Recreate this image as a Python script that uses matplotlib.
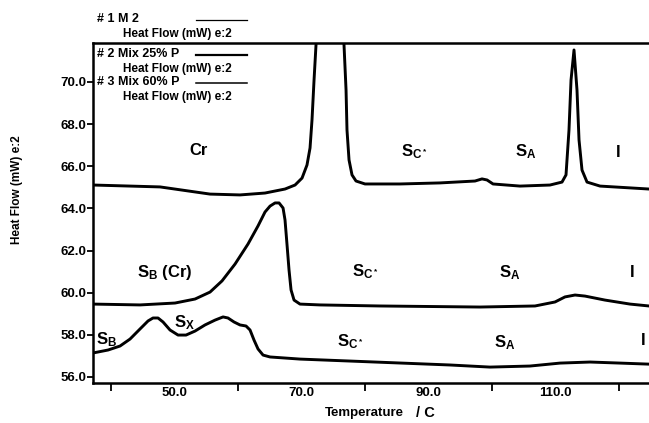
#!/usr/bin/env python3
import matplotlib
matplotlib.use("Agg")
import matplotlib.pyplot as plt

# DSC traces (temperature in C, heat flow in mW)
temp_m2 = [37.24, 47.80, 55.67, 60.39, 64.33, 67.48, 69.06, 70.16, 70.94, 71.42, 71.73, 72.05,
           72.36, 73.30, 74.57, 75.83, 76.77, 77.09, 77.24, 77.56, 78.03, 78.66, 80.08, 85.59,
           91.89, 97.40, 98.50, 99.29, 100.24, 104.49, 109.21, 111.10, 111.73, 112.20, 112.52,
           112.99, 113.46, 113.78, 114.25, 115.04, 117.09, 124.80]
flow_m2 = [65.11, 65.02, 64.68, 64.64, 64.73, 64.92, 65.11, 65.44, 66.06, 66.87, 68.20, 70.09,
           71.76, 76.70, 78.20, 76.70, 71.76, 69.62, 67.72, 66.30, 65.59, 65.30, 65.16, 65.16,
           65.21, 65.30, 65.40, 65.35, 65.16, 65.06, 65.11, 65.25, 65.59, 67.72, 70.09,
           71.52, 69.62, 67.25, 65.82, 65.25, 65.06, 64.92]

temp_25 = [37.24, 44.65, 50.16, 53.31, 55.67, 57.56, 59.61, 61.65, 63.23, 64.33, 65.12, 65.91,
           66.54, 67.17, 67.48, 67.80, 68.11, 68.43, 68.90, 69.84, 72.99, 82.44, 98.19, 106.85,
           110.00, 111.57, 113.15, 114.72, 117.87, 121.81, 124.80]
flow_25 = [59.46, 59.42, 59.51, 59.70, 60.03, 60.56, 61.36, 62.31, 63.17, 63.83, 64.11, 64.26,
           64.26, 64.02, 63.45, 62.26, 61.08, 60.13, 59.65, 59.46, 59.42, 59.37, 59.32, 59.37,
           59.56, 59.80, 59.89, 59.84, 59.65, 59.46, 59.37]

temp_60 = [37.24, 39.61, 41.50, 43.07, 44.65, 45.91, 46.69, 47.48, 48.27, 49.37, 50.63, 51.89,
           53.31, 54.88, 56.46, 57.72, 58.50, 59.45, 60.39, 61.34, 61.97, 62.60, 63.23, 64.02,
           65.12, 69.84, 81.65, 93.46, 99.76, 106.06, 110.79, 115.51, 120.24, 124.80]
flow_60 = [57.14, 57.28, 57.47, 57.80, 58.28, 58.66, 58.80, 58.80, 58.61, 58.23, 57.99, 57.99,
           58.18, 58.47, 58.70, 58.85, 58.80, 58.61, 58.47, 58.42, 58.23, 57.75, 57.33, 57.04,
           56.95, 56.85, 56.71, 56.57, 56.47, 56.52, 56.66, 56.71, 56.66, 56.61]

y_ticks = [70.0, 68.0, 66.0, 64.0, 62.0, 60.0, 58.0, 56.0]
x_ticks = [40, 60, 80, 100, 120]
x_labels = [50.0, 70.0, 90.0, 110.0]

# phase labels: (text, temperature, heat flow)
phase_labels = [
    ("Cr", 53.9, 66.77),
    (r"$\mathbf{S}_{\mathbf{C^*}}$", 87.8, 66.68),
    (r"$\mathbf{S}_{\mathbf{A}}$", 105.3, 66.68),
    ("I", 119.9, 66.63),
    (r"$\mathbf{S}_{\mathbf{B}}$ (Cr)", 48.6, 60.98),
    (r"$\mathbf{S}_{\mathbf{C^*}}$", 80.1, 60.98),
    (r"$\mathbf{S}_{\mathbf{A}}$", 102.8, 60.94),
    ("I", 122.1, 60.98),
    (r"$\mathbf{S}_{\mathbf{B}}$", 39.3, 57.75),
    (r"$\mathbf{S}_{\mathbf{X}}$", 51.6, 58.56),
    (r"$\mathbf{S}_{\mathbf{C^*}}$", 77.7, 57.66),
    (r"$\mathbf{S}_{\mathbf{A}}$", 102.1, 57.61),
    ("I", 123.9, 57.75),
]

legend_rows = [
    ("# 1 M 2", 0.9),
    ("# 2 Mix 25% P", 1.6),
    ("# 3 Mix 60% P", 1.1),
]

plt.rcParams.update({
    "font.family": ["Liberation Sans", "DejaVu Sans"],
    "font.weight": "bold",
    "mathtext.fontset": "custom",
    "mathtext.rm": "Liberation Sans:bold",
    "mathtext.bf": "Liberation Sans:bold",
    "mathtext.it": "Liberation Sans:bold",
})

W, H = 649, 423
fig = plt.figure(figsize=(W / 100, H / 100), dpi=100)
ax = fig.add_axes([93 / W, 1 - 383 / H, 1 - 93 / W, (383 - 43) / H])


def fig_px(x, y):
    return x / W, 1 - y / H


for t, f in [(temp_m2, flow_m2), (temp_25, flow_25), (temp_60, flow_60)]:
    ax.plot(t, f, color="black", linewidth=2.1, solid_joinstyle="round")

ax.set_xlim(37.24, 124.8)
ax.set_ylim(55.715, 71.85)

ax.spines["right"].set_visible(False)
for side in ["left", "bottom", "top"]:
    ax.spines[side].set_linewidth(1.8)

ax.set_yticks(y_ticks)
ax.set_yticklabels([f"{v:.1f}" for v in y_ticks], fontsize=9.5, fontweight="bold")
ax.tick_params(axis="y", direction="out", length=4, width=1.3, pad=1)
ax.set_xticks(x_ticks)
ax.set_xticklabels([])
ax.tick_params(axis="x", direction="out", length=6, width=1.3)

trans = ax.get_xaxis_transform()
for v in x_labels:
    ax.text(v, -0.03, f"{v:.1f}", transform=trans, ha="center", va="center",
            fontsize=9.5, fontweight="bold")

for txt, t, f in phase_labels:
    ax.text(t, f, txt, ha="center", va="center", fontsize=12, fontweight="bold")

# axis titles
fig.text(*fig_px(364, 413), "Temperature", ha="center", va="center", fontsize=9.5, fontweight="bold")
fig.text(*fig_px(425, 413), "/ C", ha="center", va="center", fontsize=10.5, fontweight="bold")
fig.text(*fig_px(17, 190), "Heat Flow (mW) e:2", rotation=90, ha="center", va="center",
         fontsize=8.5, fontweight="bold")

# legend block in the top left corner
row_y = [19, 54, 82]
for (name, lw), y in zip(legend_rows, row_y):
    fig.text(*fig_px(97, y), name, ha="left", va="center", fontsize=9, fontweight="bold")
    x0, y0 = fig_px(196, y + 1)
    x1, _ = fig_px(247, y + 1)
    fig.add_artist(plt.Line2D([x0, x1], [y0, y0], color="black", linewidth=lw,
                              transform=fig.transFigure))
    fig.text(*fig_px(123, y + 15), "Heat Flow (mW) e:2", ha="left", va="center",
             fontsize=8.5, fontweight="bold")

fig.savefig("out.png", dpi=100)
